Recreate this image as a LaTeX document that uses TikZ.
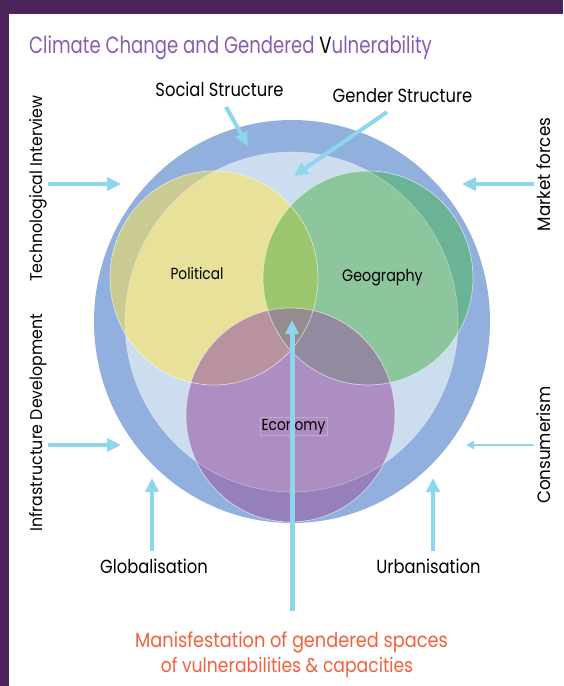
\documentclass[tikz,border=0pt]{standalone}
\usepackage{fontspec}
\setmainfont{Poppins}[FakeStretch=0.86]
\newfontfamily\titlefont{Poppins}[FakeStretch=0.77]
\newfontfamily\sidefont{Poppins}[FakeStretch=0.93]
\usetikzlibrary{arrows.meta}

\definecolor{framepurple}{HTML}{4B245B}
\definecolor{titlepurple}{HTML}{8B5DAF}
\definecolor{outerblue}{HTML}{91B0DD}
\definecolor{innerblue}{HTML}{CDDDF0}
\definecolor{polyellow}{HTML}{E7E19A}
\definecolor{pololive}{HTML}{CACB93}
\definecolor{geogreen}{HTML}{8DC59C}
\definecolor{geoteal}{HTML}{6AB395}
\definecolor{ecopurple}{HTML}{AD8EC3}
\definecolor{ecodark}{HTML}{9580BC}
\definecolor{lenspg}{HTML}{9CC76E}
\definecolor{lenspe}{HTML}{B8939F}
\definecolor{lensge}{HTML}{928A9F}
\definecolor{lenspge}{HTML}{968B8E}
\definecolor{flowcyan}{HTML}{8DD6EC}
\definecolor{notered}{HTML}{F2613F}

\tikzset{
  label/.style={font=\fontsize{19}{21}\selectfont, text=black, inner sep=0pt},
  sidelabel/.style={font=\sidefont\fontsize{17}{19}\selectfont, text=black, inner sep=0pt, rotate=90},
  setlabel/.style={font=\fontsize{16}{18}\selectfont, text=black, inner sep=0pt},
  rim/.style={draw=white, draw opacity=0.6, line width=0.7pt},
  flow/.style={draw=flowcyan, line width=4.5pt, -{Triangle[length=14pt,width=13pt]}},
  thinflow/.style={draw=flowcyan, line width=2pt, -{Triangle[length=8pt,width=8pt]}},
}

\begin{document}
\begin{tikzpicture}[x=1pt,y=-1pt]
\useasboundingbox (0,0) rectangle (563,686);
\fill[white] (0,0) rectangle (563,686);
% frame bands
\fill[framepurple] (0,0) rectangle (563,13.5);
\fill[framepurple] (0,0) rectangle (8.5,686);

% title
\node[anchor=base west, inner sep=0pt, font=\titlefont\fontsize{23.5}{26}\selectfont] (title) at (29,53)
  {\textcolor{titlepurple}{Climate Change and Gendered }\textcolor{black}{V}\textcolor{titlepurple}{ulnerability}};

% circle centres
\coordinate (cO) at (292,321.5);
\coordinate (cL) at (291.5,322);
\coordinate (cP) at (214,278);
\coordinate (cG) at (368,278);
\coordinate (cE) at (290.5,415);

% outer and inner rings
\fill[outerblue] (cO) ellipse [x radius=198pt, y radius=201.5pt];
\fill[innerblue] (cL) ellipse [x radius=166.5pt, y radius=170pt];

% the three sets, outside the inner ring
\fill[pololive] (cP) ellipse [x radius=104pt, y radius=107pt];
\fill[geoteal] (cG) ellipse [x radius=105pt, y radius=107pt];
\fill[ecodark] (cE) ellipse [x radius=104.5pt, y radius=107pt];

% the three sets, inside the inner ring
\begin{scope}
  \clip (cL) ellipse [x radius=166.5pt, y radius=170pt];
  \fill[polyellow] (cP) ellipse [x radius=104pt, y radius=107pt];
  \fill[geogreen] (cG) ellipse [x radius=105pt, y radius=107pt];
  \fill[ecopurple] (cE) ellipse [x radius=104.5pt, y radius=107pt];
\end{scope}

% pairwise and triple overlaps
\begin{scope}
  \clip (cP) ellipse [x radius=104pt, y radius=107pt];
  \fill[lenspg] (cG) ellipse [x radius=105pt, y radius=107pt];
\end{scope}
\begin{scope}
  \clip (cE) ellipse [x radius=104.5pt, y radius=107pt];
  \fill[lenspe] (cP) ellipse [x radius=104pt, y radius=107pt];
  \fill[lensge] (cG) ellipse [x radius=105pt, y radius=107pt];
  \clip (cP) ellipse [x radius=104pt, y radius=107pt];
  \fill[lenspge] (cG) ellipse [x radius=105pt, y radius=107pt];
\end{scope}

% soft rims
\draw[draw=white, draw opacity=0.35, line width=0.6pt] (cL) ellipse [x radius=166.5pt, y radius=170pt];
\draw[rim] (cP) ellipse [x radius=104pt, y radius=107pt];
\draw[rim] (cG) ellipse [x radius=105pt, y radius=107pt];
\draw[rim] (cE) ellipse [x radius=104.5pt, y radius=107pt];

% set labels
\node[setlabel, anchor=base] (political) at (197,279) {Political};
\node[setlabel, anchor=base, font=\fontsize{16.6}{18}\selectfont] (geography) at (382.5,281) {Geography};
\node[setlabel, anchor=base, draw=white, draw opacity=0.25, inner sep=1.5pt] (economy) at (293.5,430) {Economy};

% surrounding labels
\node[label, anchor=base] (social) at (219.5,96) {Social Structure};
\node[label, anchor=base] (gender) at (402.5,102) {Gender Structure};
\node[label, anchor=base] (global) at (154,573) {Globalisation};
\node[label, anchor=base] (urban) at (428.5,573) {Urbanisation};
\node[sidelabel] (techno) at (38,188.5) {Technological Interview};
\node[sidelabel] (infra) at (38,422.5) {Infrastructure Development};
\node[sidelabel, font=\sidefont\fontsize{18}{20}\selectfont] (market) at (543.5,174.5) {Market forces};
\node[sidelabel, font=\sidefont\fontsize{18}{20}\selectfont] (consum) at (543.5,445) {Consumerism};

\node[anchor=base, inner sep=0pt, text=notered, font=\fontsize{20.6}{22}\selectfont] (manif1) at (291.5,647) {Manisfestation of gendered spaces};
\node[anchor=base, inner sep=0pt, text=notered, font=\fontsize{20}{22}\selectfont] (manif2) at (287,672) {of vulnerabilities \& capacities};

% arrow end points
\coordinate (socA) at (226,107);
\coordinate (socB) at (248,146);
\coordinate (genA) at (387,112);
\coordinate (genB) at (294,176);
\coordinate (tecA) at (48,184);
\coordinate (tecB) at (121,184);
\coordinate (infA) at (48,445);
\coordinate (infB) at (121,445);
\coordinate (mkA) at (534,184);
\coordinate (mkB) at (462,184);
\coordinate (conA) at (534,445);
\coordinate (conB) at (466,445);
\coordinate (gloA) at (152,551);
\coordinate (gloB) at (152,478);
\coordinate (urbA) at (433,551);
\coordinate (urbB) at (433,478);
\coordinate (midA) at (292,611);
\coordinate (midB) at (292,320);

% arrows
\draw[flow, line width=4pt] (socA) -- (socB);
\draw[flow, line width=4pt] (genA) -- (genB);
\draw[flow] (tecA) -- (tecB);
\draw[flow] (infA) -- (infB);
\draw[flow] (mkA) -- (mkB);
\draw[thinflow] (conA) -- (conB);
\draw[flow] (gloA) -- (gloB);
\draw[flow] (urbA) -- (urbB);
\draw[flow, line width=5pt] (midA) -- (midB);
\end{tikzpicture}
\end{document}
